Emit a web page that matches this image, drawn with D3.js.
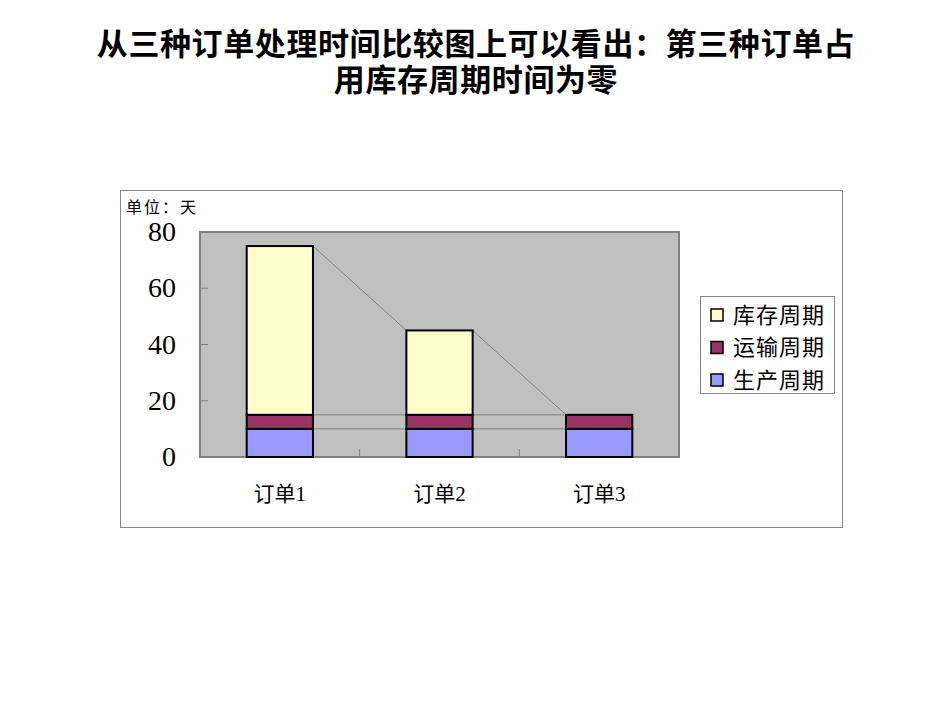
<!DOCTYPE html>
<html>
<head>
<meta charset="utf-8">
<script src="https://cdn.jsdelivr.net/npm/d3@7"></script>
<style>
  body { margin: 0; background: #fff; }
  .title { font-family: "Noto Sans CJK SC", sans-serif; font-weight: bold; font-size: 31px; letter-spacing: 0.6px; fill: #000; }
  .serif { font-family: "Liberation Serif", "Noto Sans CJK SC", serif; fill: #000; }
  .cjk { font-family: "Noto Sans CJK SC", sans-serif; fill: #000; }
</style>
</head>
<body>
<div id="chart"></div>
<script>
// chart data
var orders = ["订单1", "订单2", "订单3"];
var seriesNames = ["生产周期", "运输周期", "库存周期"];
var production = [10, 10, 10];
var transport = [5, 5, 5];
var inventory = [60, 30, 0];
var seriesColors = ["#9999ff", "#993366", "#ffffcc"];
var yTicks = [0, 20, 40, 60, 80];

var svgWidth = 950;
var svgHeight = 713;

var svg = d3.select("#chart")
  .append("svg")
  .attr("width", svgWidth)
  .attr("height", svgHeight);

// title, wrapped over two lines
var titleLines = ["从三种订单处理时间比较图上可以看出：第三种订单占", "用库存周期时间为零"];
svg.append("text")
  .attr("class", "title")
  .attr("text-anchor", "middle")
  .selectAll("tspan")
  .data(titleLines)
  .enter()
  .append("tspan")
  .attr("x", 476)
  .attr("y", (d, i) => 55 + i * 36)
  .text(d => d);

// outer chart frame
svg.append("rect")
  .attr("x", 120.5)
  .attr("y", 190.5)
  .attr("width", 722)
  .attr("height", 337)
  .attr("fill", "#fff")
  .attr("stroke", "#888")
  .attr("stroke-width", 1);

svg.append("text")
  .attr("class", "cjk")
  .attr("x", 126)
  .attr("y", 213)
  .style("font-size", "16px")
  .style("letter-spacing", "2px")
  .text("单位：天");

// plot area
var plot = { left: 200, top: 232, width: 479, height: 225 };
var g = svg.append("g")
  .attr("transform", `translate(${plot.left}, ${plot.top})`);

var x = d3.scaleBand()
  .domain(orders)
  .range([0, plot.width])
  .paddingInner(0.585)
  .paddingOuter(0.2925);

var y = d3.scaleLinear()
  .domain([0, 80])
  .range([plot.height, 0]);

g.append("rect")
  .attr("x", 0)
  .attr("y", 0)
  .attr("width", plot.width)
  .attr("height", plot.height)
  .attr("fill", "#c0c0c0")
  .attr("stroke", "#808080")
  .attr("stroke-width", 2);

// stack the series
var table = orders.map((o, i) => ({
  order: o,
  "生产周期": production[i],
  "运输周期": transport[i],
  "库存周期": inventory[i]
}));
var stacked = d3.stack().keys(seriesNames)(table);

// series lines between bars
var lineGroup = g.append("g");
stacked.forEach(function(layer) {
  for (var i = 0; i < orders.length - 1; i++) {
    lineGroup.append("line")
      .attr("x1", x(orders[i]) + x.bandwidth())
      .attr("y1", y(layer[i][1]))
      .attr("x2", x(orders[i + 1]))
      .attr("y2", y(layer[i + 1][1]))
      .attr("stroke", "#808080")
      .attr("stroke-width", 1);
  }
});

// bars
stacked.forEach(function(layer, li) {
  g.append("g")
    .selectAll("rect")
    .data(layer.filter(d => d[1] - d[0] > 0))
    .enter()
    .append("rect")
    .attr("x", d => x(d.data.order))
    .attr("y", d => y(d[1]))
    .attr("width", x.bandwidth())
    .attr("height", d => y(d[0]) - y(d[1]))
    .attr("fill", seriesColors[li])
    .attr("stroke", "#000")
    .attr("stroke-width", 2);
});

// category divider ticks
var step = x.step();
[1, 2].forEach(function(k) {
  g.append("line")
    .attr("x1", k * step)
    .attr("x2", k * step)
    .attr("y1", plot.height)
    .attr("y2", plot.height - 8)
    .attr("stroke", "#808080");
});

// y axis labels
g.selectAll(".ylab")
  .data(yTicks)
  .enter()
  .append("text")
  .attr("class", "serif")
  .attr("x", -24)
  .attr("y", d => y(d))
  .attr("dy", "0.33em")
  .attr("text-anchor", "end")
  .style("font-size", "28px")
  .text(d => d);

g.selectAll(".ytick")
  .data(yTicks)
  .enter()
  .append("line")
  .attr("x1", 0)
  .attr("x2", 8)
  .attr("y1", d => y(d))
  .attr("y2", d => y(d))
  .attr("stroke", "#808080");

// x labels
g.selectAll(".xlab")
  .data(orders)
  .enter()
  .append("text")
  .attr("class", "serif")
  .attr("x", d => x(d) + x.bandwidth() / 2)
  .attr("y", plot.height + 44)
  .attr("text-anchor", "middle")
  .style("font-size", "21px")
  .text(d => d);

// legend
var legend = svg.append("g")
  .attr("transform", "translate(700, 296)");
legend.append("rect")
  .attr("x", 0.5)
  .attr("y", 0.5)
  .attr("width", 134)
  .attr("height", 97)
  .attr("fill", "#fff")
  .attr("stroke", "#888");

var legendOrder = [2, 1, 0];
var items = legend.selectAll(".item")
  .data(legendOrder)
  .enter()
  .append("g")
  .attr("transform", (d, i) => `translate(0, ${19 + i * 32.5})`);
items.append("rect")
  .attr("x", 11)
  .attr("y", -6)
  .attr("width", 12)
  .attr("height", 12)
  .attr("fill", d => seriesColors[d])
  .attr("stroke", "#000")
  .attr("stroke-width", 1.5);
items.append("text")
  .attr("class", "cjk")
  .attr("x", 33)
  .attr("y", 0)
  .attr("dy", "0.36em")
  .style("font-size", "22px")
  .style("letter-spacing", "1px")
  .text(d => seriesNames[d]);
</script>
</body>
</html>
